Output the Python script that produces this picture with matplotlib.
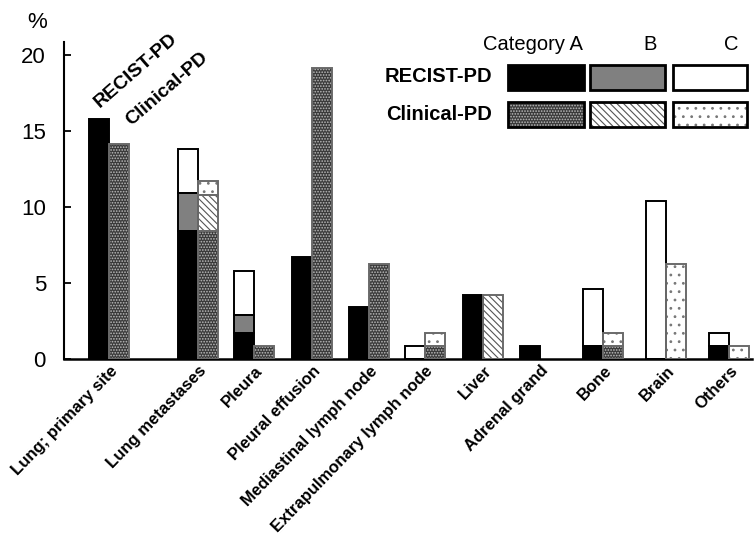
import matplotlib
matplotlib.use("Agg")
import matplotlib.pyplot as plt
from matplotlib.patches import Rectangle
from matplotlib.transforms import ScaledTranslation

plt.rcParams['font.family'] = ['Liberation Sans', 'DejaVu Sans']
plt.rcParams['hatch.linewidth'] = 0.8

# ---- data (% of patients) ----
sites = ["Lung; primary site", "Lung metastases", "Pleura", "Pleural effusion",
         "Mediastinal lymph node", "Extrapulmonary lymph node", "Liver",
         "Adrenal grand", "Bone", "Brain", "Others"]

recist_a = [15.8, 8.4, 1.7, 6.7, 3.4, 0.0, 4.2, 0.85, 0.85, 0.0, 0.85]
recist_b = [0.0, 2.5, 1.2, 0.0, 0.0, 0.0, 0.0, 0.0, 0.0, 0.0, 0.0]
recist_c = [0.0, 2.9, 2.9, 0.0, 0.0, 0.85, 0.0, 0.0, 3.75, 10.4, 0.85]

clinical_a = [14.1, 8.4, 0.85, 19.1, 6.25, 0.85, 0.0, 0.0, 0.85, 0.0, 0.0]
clinical_b = [0.0, 2.4, 0.0, 0.0, 0.0, 0.0, 4.2, 0.0, 0.0, 0.0, 0.0]
clinical_c = [0.0, 0.9, 0.0, 0.0, 0.0, 0.85, 0.0, 0.0, 0.85, 6.25, 0.85]

yticks = [0, 5, 10, 15, 20]

# ---- layout (group centres, uneven like the original) ----
pos = [0, 1.55, 2.53, 3.54, 4.54, 5.51, 6.53, 7.52, 8.62, 9.72, 10.82]
bw = 0.35

# styles: (face, hatch, hatch colour, edge colour)
recist_style = [("black", None, "black", "black"),
                ("#808080", None, "#808080", "black"),
                ("white", None, "white", "black")]
clinical_style = [("#3a3a3a", "......", "#bdbdbd", "#6a6a6a"),
                  ("white", "\\\\\\\\\\", "#555555", "#6a6a6a"),
                  ("white", "..", "#777777", "#6a6a6a")]


def draw_stack(ax, xs, layers, styles, lw):
    bottoms = [0.0] * len(xs)
    for vals, (face, hatch, hcol, edge) in zip(layers, styles):
        for x, b, v in zip(xs, bottoms, vals):
            if v <= 0:
                continue
            ax.bar(x, v, bw, bottom=b, color=face, hatch=hatch, edgecolor=hcol,
                   linewidth=0, align='center', zorder=2)
            ax.bar(x, v, bw, bottom=b, fill=False, edgecolor=edge,
                   linewidth=lw, align='center', zorder=3)
        bottoms = [b + v for b, v in zip(bottoms, vals)]


fig = plt.figure(figsize=(7.55, 5.51), dpi=100)
ax = fig.add_axes([64 / 755, 192 / 551, (752 - 64) / 755, (359 - 42.5) / 551])

x_r = [p - bw / 2 for p in pos]
x_c = [p + bw / 2 for p in pos]
draw_stack(ax, x_r, [recist_a, recist_b, recist_c], recist_style, 1.4)
draw_stack(ax, x_c, [clinical_a, clinical_b, clinical_c], clinical_style, 1.4)

ax.set_xlim(-0.785, 11.22)
ax.set_ylim(0, 20.8)
ax.set_yticks(yticks)
ax.tick_params(axis='y', direction='in', length=5, width=1.3, labelsize=16, pad=13)
ax.tick_params(axis='x', length=0, pad=6)
ax.set_xticks(pos)
ax.set_xticklabels(sites, rotation=46, ha='right', va='center',
                   rotation_mode='anchor', fontsize=12, fontweight='bold')
shift = ScaledTranslation(6 / 100, -1 / 100, fig.dpi_scale_trans)
for lab in ax.get_xticklabels():
    lab.set_transform(lab.get_transform() + shift)
for s in ['top', 'right']:
    ax.spines[s].set_visible(False)
ax.spines['left'].set_linewidth(1.5)
ax.spines['bottom'].set_linewidth(1.8)

fig.text(37 / 755, 1 - 22 / 551, "%", fontsize=16, ha='center', va='center')

# rotated series names above the first group
ax.text(-0.12, 16.3, "RECIST-PD", rotation=41, rotation_mode='anchor',
        ha='left', va='bottom', fontsize=14, fontweight='bold')
ax.text(0.43, 15.1, "Clinical-PD", rotation=41, rotation_mode='anchor',
        ha='left', va='bottom', fontsize=14, fontweight='bold')

# ---- hand-made legend (figure pixel coords) ----
W, H = 755, 551
cols = [(506, 585), (588, 666), (671, 748)]
rows = [(63, 91), (101, 129)]
inset = 1.5
for r, styles in zip(rows, [recist_style, clinical_style]):
    for (x0, x1), (face, hatch, hcol, edge) in zip(cols, styles):
        rect = ((x0 + inset) / W, 1 - (r[1] - inset) / H)
        w, h = (x1 - x0 - 2 * inset) / W, (r[1] - r[0] - 2 * inset) / H
        fig.add_artist(Rectangle(rect, w, h, transform=fig.transFigure,
                                 facecolor=face, hatch=hatch, edgecolor=hcol,
                                 linewidth=0))
        fig.add_artist(Rectangle(rect, w, h, transform=fig.transFigure,
                                 fill=False, edgecolor='black', linewidth=2.0))

for label, xc in zip(["Category A", "B", "C"], [533, 650, 731]):
    fig.text(xc / W, 1 - 44 / H, label, fontsize=14.5, ha='center', va='center')
for label, r in zip(["RECIST-PD", "Clinical-PD"], rows):
    fig.text(492 / W, 1 - (r[0] + r[1]) / 2 / H, label, fontsize=14.5,
             fontweight='bold', ha='right', va='center')

fig.savefig("out.png", dpi=100)
